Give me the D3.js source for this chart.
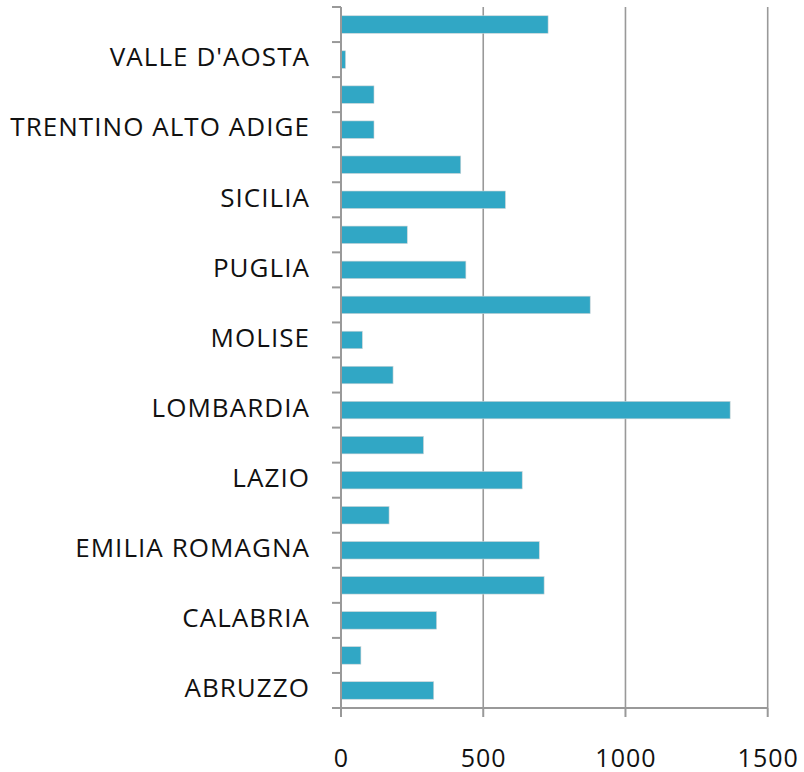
<!DOCTYPE html>
<html>
<head>
<meta charset="utf-8">
<script src="https://cdn.jsdelivr.net/npm/d3@7"></script>
<style>
  html, body { margin: 0; padding: 0; background: #fff; }
  svg { display: block; }
</style>
</head>
<body>
<svg id="chart" width="804" height="772"></svg>
<script>
// Categories from bottom to top
const regions = [
  "ABRUZZO", "BASILICATA", "CALABRIA", "CAMPANIA", "EMILIA ROMAGNA",
  "FRIULI VENEZIA GIULIA", "LAZIO", "LIGURIA", "LOMBARDIA", "MARCHE",
  "MOLISE", "PIEMONTE", "PUGLIA", "SARDEGNA", "SICILIA",
  "TOSCANA", "TRENTINO ALTO ADIGE", "UMBRIA", "VALLE D'AOSTA", "VENETO"
];
const values = [
  326, 70, 336, 714, 697,
  169, 637, 290, 1368, 183,
  75, 876, 439, 233, 578,
  421, 116, 116, 16, 728
];
const xTicks = [0, 500, 1000, 1500];

const svg = d3.select("#chart");
const top0 = 7, bottomY = 708;

const x = d3.scaleLinear().domain([0, 1500]).range([341, 767.7]);
const y = d3.scaleBand().domain(regions.slice().reverse()).range([top0, bottomY]).paddingInner(0.5).paddingOuter(0.25);

const gridColor = "#999999";

// gridlines
svg.append("g").selectAll("line").data(xTicks.filter(d => d > 0)).join("line")
  .attr("x1", d => x(d)).attr("x2", d => x(d))
  .attr("y1", top0).attr("y2", bottomY)
  .attr("stroke", gridColor).attr("stroke-width", 1.6);

// bars
svg.append("g").selectAll("rect").data(regions).join("rect")
  .attr("x", x(0))
  .attr("y", d => y(d))
  .attr("width", (d, i) => x(values[i]) - x(0))
  .attr("height", y.bandwidth())
  .attr("fill", "#31a7c5")
  .attr("stroke", "#d0d4d6").attr("stroke-width", 0.6);

// left axis line with ticks at band boundaries
const n = regions.length;
const boundaries = d3.range(n + 1).map(i => top0 + i * ((bottomY - top0) / n));
svg.append("line")
  .attr("x1", x(0)).attr("x2", x(0))
  .attr("y1", top0).attr("y2", bottomY + 9)
  .attr("stroke", gridColor).attr("stroke-width", 2);
svg.append("g").selectAll("line").data(boundaries).join("line")
  .attr("x1", x(0) - 9).attr("x2", x(0))
  .attr("y1", d => d).attr("y2", d => d)
  .attr("stroke", gridColor).attr("stroke-width", 2);

// bottom axis
svg.append("line")
  .attr("x1", x(0)).attr("x2", x(1500))
  .attr("y1", bottomY).attr("y2", bottomY)
  .attr("stroke", gridColor).attr("stroke-width", 2);
svg.append("g").selectAll("line").data(xTicks).join("line")
  .attr("x1", d => x(d)).attr("x2", d => x(d))
  .attr("y1", bottomY).attr("y2", bottomY + 9)
  .attr("stroke", gridColor).attr("stroke-width", 2);

const font = "'Open Sans', 'DejaVu Sans', sans-serif";

// x tick labels
svg.append("g").selectAll("text").data(xTicks).join("text")
  .attr("x", d => x(d) + 0.5).attr("y", 766.5)
  .attr("text-anchor", "middle")
  .attr("font-family", font).attr("font-size", 25).attr("letter-spacing", 1).attr("fill", "#111")
  .text(d => d);

// y labels: every other category
svg.append("g").selectAll("text").data(regions.filter((d, i) => i % 2 === 0)).join("text")
  .attr("x", 310)
  .attr("y", d => y(d) + y.bandwidth() / 2 + 6.8)
  .attr("text-anchor", "end")
  .attr("font-family", font).attr("font-size", 26).attr("letter-spacing", 1.05).attr("fill", "#111")
  .text(d => d);
</script>
</body>
</html>
